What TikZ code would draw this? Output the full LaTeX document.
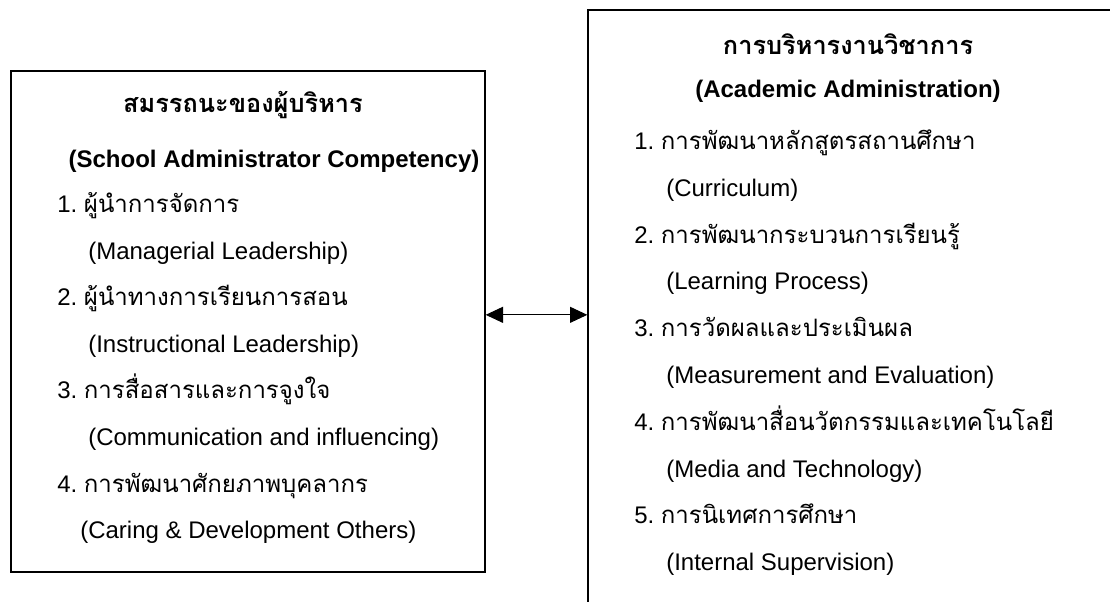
\documentclass[tikz,border=0pt]{standalone}
\usepackage{fontspec}
\setmainfont{Liberation Sans}
\newfontfamily\thaifont[Script=Thai]{Loma}
\usetikzlibrary{arrows.meta, fit}

\begin{document}
\begin{tikzpicture}[
  x=0.75pt, y=-0.75pt,
  panel/.style={draw, line width=1pt, inner sep=0pt},
  line/.style={anchor=base west, inner sep=0pt, font=\fontsize{18}{22}\selectfont},
  head/.style={anchor=base, inner sep=0pt, font=\fontsize{18}{22}\selectfont\bfseries},
  thaihead/.style={head, font=\fontsize{19}{23}\selectfont\bfseries\thaifont},
  link/.style={{Triangle[length=13pt,width=12pt]}-{Triangle[length=13pt,width=12pt]}, line width=0.8pt}
]
\useasboundingbox (0,0) rectangle (1110,601);
\clip (0,0) rectangle (1110,601);

% Boxes
\node[panel, fit={(11,71) (485,572)}] (comp) {};
\node[panel, fit={(588,10) (1130,640)}] (acad) {};

% Left box
\node[thaihead] (comptitle) at (243,112) {สมรรถนะของผู้บริหาร};
\node[head] (compeng) at (274,167) {(School Administrator Competency)};
\node[line] (c1) at (57,212) {1.\ \thaifont ผู้นำการจัดการ};
\node[line] (c1e) at (88,259) {(Managerial Leadership)};
\node[line] (c2) at (57,305) {2.\ \thaifont ผู้นำทางการเรียนการสอน};
\node[line] (c2e) at (88,352) {(Instructional Leadership)};
\node[line] (c3) at (57,398) {3.\ \thaifont การสื่อสารและการจูงใจ};
\node[line] (c3e) at (88,445) {(Communication and influencing)};
\node[line] (c4) at (57,492) {4.\ \thaifont การพัฒนาศักยภาพบุคลากร};
\node[line] (c4e) at (80,538) {(Caring \& Development Others)};

% Right box
\node[thaihead] (acadtitle) at (848,54) {การบริหารงานวิชาการ};
\node[head] (acadeng) at (848,97) {(Academic Administration)};
\node[line] (a1) at (634,149) {1.\ \thaifont การพัฒนาหลักสูตรสถานศึกษา};
\node[line] (a1e) at (666,196) {(Curriculum)};
\node[line] (a2) at (634,243) {2.\ \thaifont การพัฒนากระบวนการเรียนรู้};
\node[line] (a2e) at (666,289) {(Learning Process)};
\node[line] (a3) at (634,336) {3.\ \thaifont การวัดผลและประเมินผล};
\node[line] (a3e) at (666,383) {(Measurement and Evaluation)};
\node[line] (a4) at (634,430) {4.\ \thaifont การพัฒนาสื่อนวัตกรรมและเทคโนโลยี};
\node[line] (a4e) at (666,477) {(Media and Technology)};
\node[line] (a5) at (634,523) {5.\ \thaifont การนิเทศการศึกษา};
\node[line] (a5e) at (666,570) {(Internal Supervision)};

% Link
\draw[link] ([yshift=5pt]comp.east) -- ([yshift=5pt]comp.east -| acad.west);

\end{tikzpicture}
\end{document}
